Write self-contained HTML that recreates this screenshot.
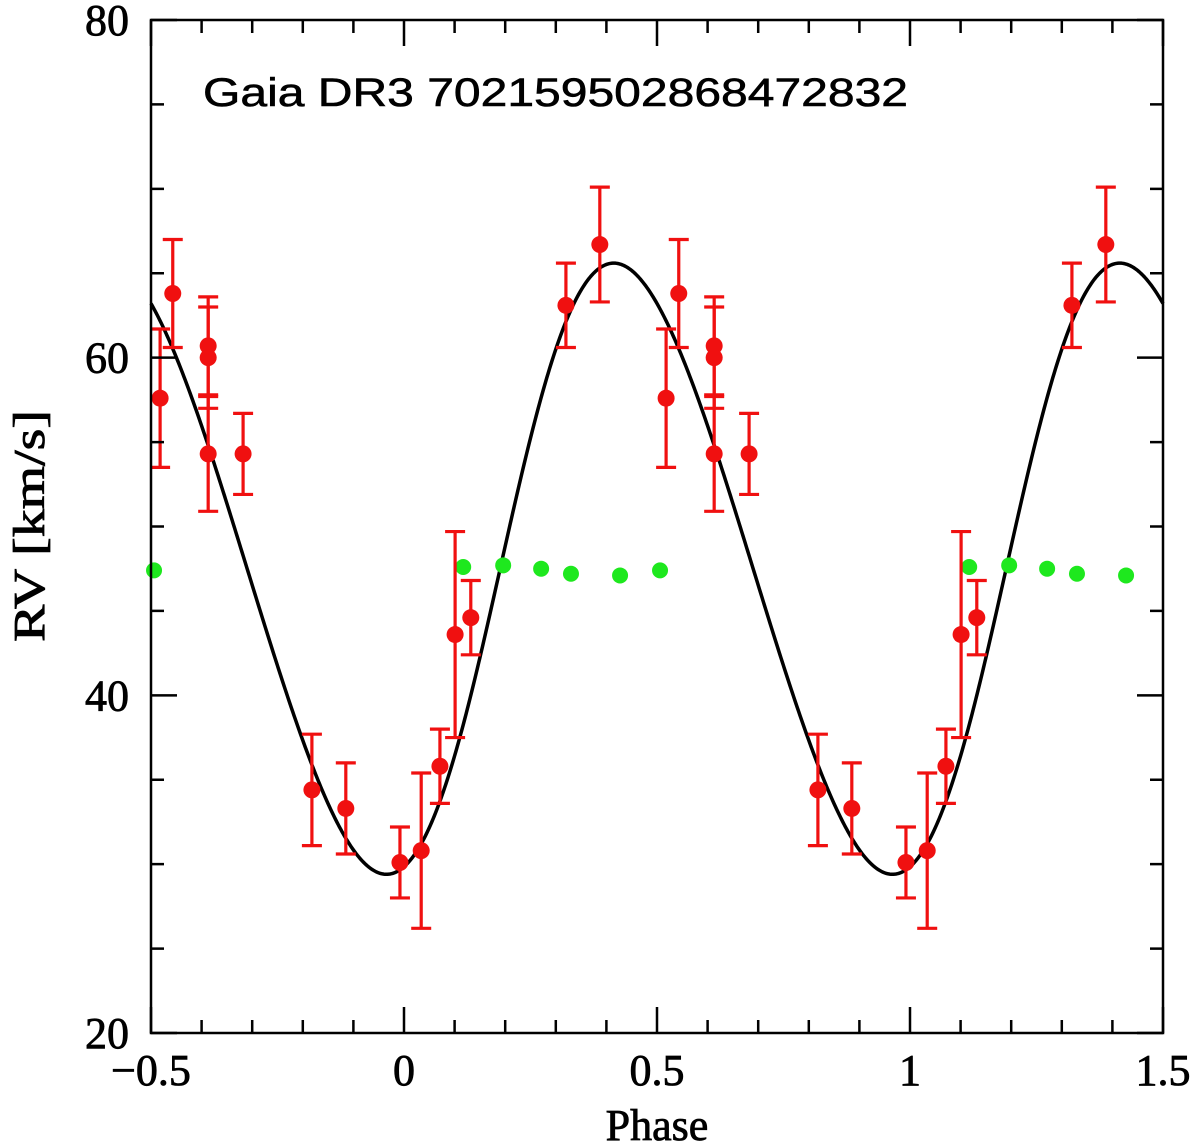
<!DOCTYPE html>
<html><head><meta charset="utf-8"><style>
html,body{margin:0;padding:0;background:#fff;}
svg{display:block;}
</style></head><body>
<svg id="chart" width="1200" height="1146" viewBox="0 0 1200 1146" xmlns="http://www.w3.org/2000/svg">
<g id="plot"></g>
</svg>
<script>
// data
const redPhase = [-0.482,-0.457,-0.387,-0.387,-0.387,-0.318,-0.182,-0.115,-0.008,0.034,0.071,0.101,0.132,0.320,0.387];
const redRV    = [57.6,63.8,60.7,60.0,54.3,54.3,34.4,33.3,30.1,30.8,35.8,43.6,44.6,63.1,66.7];
const redErr   = [4.1,3.2,2.9,3.0,3.4,2.4,3.3,2.7,2.1,4.6,2.2,6.1,2.2,2.5,3.4];
const greenPhase = [-0.494,0.117,0.196,0.271,0.330,0.427];
const greenRV    = [47.4,47.6,47.7,47.5,47.2,47.1];
const orbitParams = [47.5,18.1,0.08,0.19]; // gamma, K, e, T0 phase
const xTicks = [-0.5,0,0.5,1,1.5];
const xTickLabels = ["\u22120.5","0","0.5","1","1.5"];
const yTicks = [20,40,60,80];
const yTickLabels = ["20","40","60","80"];

const L=151,R=1163,T=20,B=1033;
const X=p=>L+(p+0.5)/2*(R-L);
const Y=v=>B-(v-20)/60*(B-T);
const NS="http://www.w3.org/2000/svg";
const g=document.getElementById('plot');
function mk(tag,attrs,parent){const e=document.createElementNS(NS,tag);for(const k in attrs)e.setAttribute(k,attrs[k]);(parent||g).appendChild(e);return e;}

function model(ph){
  const [gam,K,e,t0]=orbitParams;
  const M=2*Math.PI*(ph-t0);
  let E=M;for(let i=0;i<30;i++)E=M+e*Math.sin(E);
  const nu=2*Math.atan(Math.sqrt((1+e)/(1-e))*Math.tan(E/2));
  return gam+K*Math.sin(nu);
}
let d="";
for(let i=0;i<=800;i++){const p=-0.5+2*i/800;d+=(i?"L":"M")+X(p).toFixed(2)+","+Y(model(p)).toFixed(2);}
const curve=mk('path',{d:d,fill:'none',stroke:'#000','stroke-width':3.5});



for(let i=0;i<greenPhase.length;i++){
  for(const s of [0,1]){
    const p=greenPhase[i]+s; if(p<-0.5||p>1.5)continue;
    const c=mk('circle',{cx:X(p),cy:Y(greenRV[i]),r:8,fill:'#1ee81e'});
    
    
  }
}
for(let i=0;i<redPhase.length;i++){
  for(const s of [0,1]){
    const p=redPhase[i]+s; if(p<-0.5||p>1.5)continue;
    const x=X(p),y1=Y(redRV[i]+redErr[i]),y2=Y(redRV[i]-redErr[i]);
    const eb=mk('path',{d:`M${x},${y1}V${y2}M${x-10},${y1}H${x+10}M${x-10},${y2}H${x+10}`,stroke:'#f01010','stroke-width':3.2,fill:'none'});
    
    
    const c=mk('circle',{cx:x,cy:Y(redRV[i]),r:8.5,fill:'#f01010'});
    
    
  }
}
const fr=mk('rect',{x:L,y:T,width:R-L,height:B-T,fill:'none',stroke:'#000','stroke-width':2.5});


let td="";
for(let k=0;k<=20;k++){const p=-0.5+k*0.1;const x=X(p);const len=(k%5===0)?26:13;td+=`M${x},${B}V${B-len}M${x},${T}V${T+len}`;}
for(let k=0;k<=12;k++){const v=20+k*5;const y=Y(v);const len=(k%4===0)?26:13;td+=`M${L},${y}H${L+len}M${R},${y}H${R-len}`;}
const tk=mk('path',{d:td,stroke:'#000','stroke-width':2.5,fill:'none'});


const font='"Liberation Serif", serif';
for(let i=0;i<xTicks.length;i++){
  const t=mk('text',{x:X(xTicks[i]),y:B+52,'text-anchor':'middle','font-family':font,'font-size':44,stroke:'#000','stroke-width':0.8});
  t.textContent=xTickLabels[i];
  
  
}
for(let i=0;i<yTicks.length;i++){
  const t=mk('text',{x:L-22,y:Y(yTicks[i])+15,'text-anchor':'end','font-family':font,'font-size':44,stroke:'#000','stroke-width':0.8});
  t.textContent=yTickLabels[i];
  
  
}
const xt=mk('text',{x:657,y:1140,'text-anchor':'middle','font-family':font,'font-size':44,stroke:'#000','stroke-width':0.8});
xt.textContent='Phase';


const yt=mk('text',{x:0,y:0,'text-anchor':'middle','font-family':font,'font-size':44,stroke:'#000','stroke-width':0.8,textLength:232,lengthAdjust:'spacingAndGlyphs',transform:'translate(44,526) rotate(-90)'});
yt.textContent='RV [km/s]';


const ti=mk('text',{x:203,y:106,'font-family':'"Liberation Sans", sans-serif','font-size':40,stroke:'#000','stroke-width':0.6,textLength:705,lengthAdjust:'spacingAndGlyphs'});
ti.textContent='Gaia DR3 702159502868472832';


</script>
</body></html>
